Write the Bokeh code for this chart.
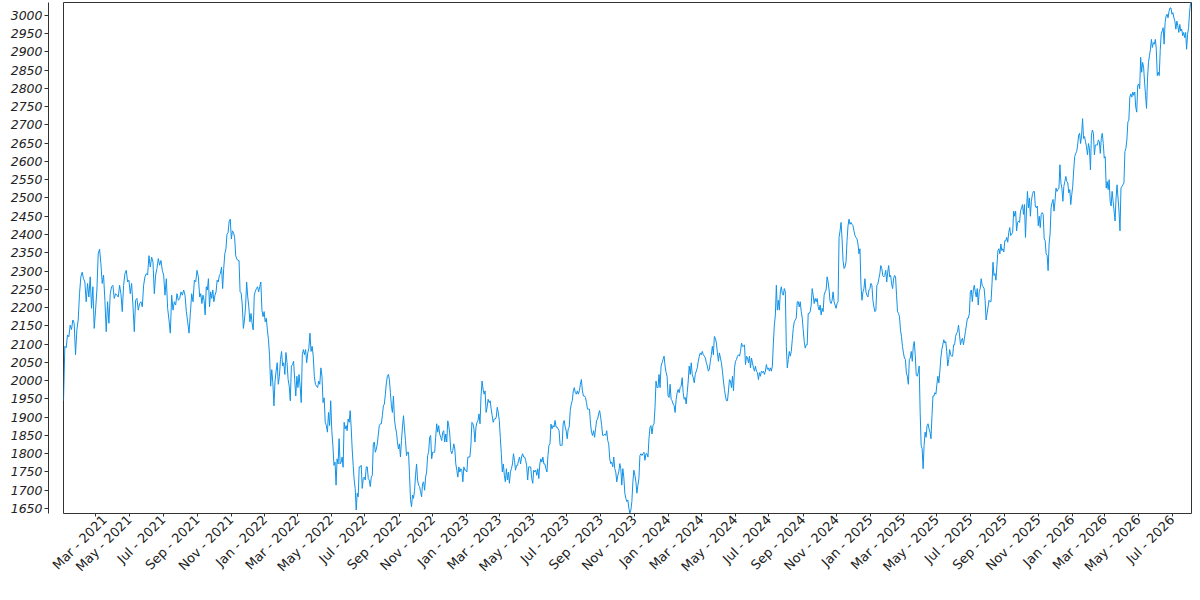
import math
import numpy as np
import pandas as pd
from bokeh.plotting import figure
from bokeh.layouts import row
from bokeh.models import (ColumnDataSource, Range1d, SingleIntervalTicker,
                          MonthsTicker, DatetimeTickFormatter)
from bokeh.embed import file_html
from bokeh.resources import INLINE

# ---- data ----
# boundaries between the stretches of the series
seg_edges = ["2021-01-01T12:00", "2021-09-05T00:00", "2022-05-08T00:00",
             "2023-01-07T00:00", "2023-09-08T00:00", "2024-05-09T00:00",
             "2025-01-09T00:00", "2025-09-10T00:00", "2026-05-05T00:00",
             "2026-08-05T00:00"]

vals_2021a = [1945, 2094, 2090, 2125, 2120, 2152, 2140, 2166, 2157, 2071,
              2139, 2166, 2238, 2284, 2297, 2279, 2270, 2216, 2266, 2229,
              2284, 2198, 2257, 2143, 2193, 2248, 2347, 2360, 2320, 2266,
              2289, 2220, 2134, 2216, 2157, 2238, 2257, 2261, 2225, 2238,
              2234, 2229, 2261, 2238, 2189, 2261, 2293, 2302, 2270, 2275,
              2238, 2266, 2207, 2134, 2220, 2225, 2193, 2211, 2216, 2202,
              2261, 2284, 2293, 2289, 2342, 2311, 2338, 2325, 2238, 2289,
              2307, 2334, 2316, 2329, 2302, 2289, 2234, 2279, 2198, 2166,
              2130, 2234, 2193, 2216, 2207, 2238, 2220, 2225, 2243, 2234,
              2248, 2234, 2189, 2161, 2130, 2184, 2238, 2216, 2275, 2270,
              2302, 2284]

vals_2021b = [2229, 2238, 2211, 2234, 2220, 2180, 2257, 2248, 2279, 2202,
              2243, 2225, 2248, 2216, 2234, 2243, 2275, 2270, 2288, 2293,
              2311, 2252, 2307, 2347, 2360, 2401, 2405, 2437, 2442, 2388,
              2410, 2405, 2392, 2342, 2333, 2329, 2329, 2243, 2240, 2207,
              2143, 2166, 2202, 2270, 2229, 2202, 2161, 2184, 2157, 2139,
              2234, 2245, 2252, 2257, 2243, 2257, 2270, 2193, 2175, 2189,
              2161, 2171, 2139, 2112, 2067, 1985, 2030, 1994, 1931, 1999,
              2026, 2049, 1990, 2012, 2058, 2080, 2040, 2049, 2017, 2077,
              2049, 2003, 1985, 1945, 2040, 2044, 2053, 2003, 1958, 2012,
              1981, 2017, 1985, 1940, 2071, 2085, 2071, 2085, 2049, 2076,
              2089, 2130, 2080, 2094, 2067, 2012, 1990, 1985, 1981, 1999,
              1990, 2035, 2012, 1940, 1953, 1886, 1877, 1859, 1913, 1877,
              1945, 1863, 1823, 1768]

vals_2022 = [1777, 1714, 1786, 1772, 1841, 1772, 1777, 1791, 1763, 1886,
             1868, 1877, 1863, 1895, 1886, 1918, 1873, 1813, 1768, 1728,
             1705, 1646, 1692, 1682, 1764, 1764, 1768, 1705, 1732, 1736,
             1728, 1764, 1764, 1732, 1728, 1710, 1736, 1741, 1827, 1832,
             1804, 1813, 1827, 1854, 1877, 1882, 1882, 1904, 1931, 1936,
             1963, 1994, 2012, 2017, 2003, 1967, 1931, 1913, 1958, 1895,
             1873, 1859, 1832, 1813, 1827, 1791, 1836, 1873, 1904, 1868,
             1836, 1795, 1804, 1804, 1741, 1674, 1655, 1687, 1678, 1700,
             1741, 1772, 1728, 1714, 1710, 1696, 1682, 1719, 1723, 1700,
             1736, 1750, 1795, 1804, 1845, 1850, 1786, 1804, 1804, 1804,
             1845, 1882, 1859, 1877, 1854, 1845, 1836, 1859, 1863, 1832,
             1854, 1832, 1890, 1877, 1854, 1809, 1800, 1809, 1827, 1813,
             1772, 1755, 1736, 1764, 1750, 1759, 1755, 1723, 1764, 1755,
             1755, 1750, 1791, 1791]

vals_2023a = [1791, 1823, 1886, 1882, 1868, 1832, 1873, 1886, 1891, 1909,
              1882, 1958, 1999, 1977, 1963, 1972, 1913, 1927, 1949, 1940,
              1945, 1922, 1904, 1886, 1895, 1895, 1900, 1927, 1913, 1891,
              1845, 1800, 1750, 1772, 1741, 1723, 1759, 1728, 1750, 1719,
              1750, 1759, 1772, 1800, 1782, 1755, 1768, 1768, 1782, 1791,
              1772, 1791, 1800, 1791, 1791, 1782, 1768, 1728, 1764, 1764,
              1764, 1732, 1719, 1755, 1750, 1755, 1741, 1759, 1732, 1772,
              1786, 1777, 1791, 1772, 1772, 1759, 1750, 1795, 1823, 1827,
              1881, 1868, 1877, 1873, 1891, 1873, 1873, 1868, 1863, 1823,
              1823, 1823, 1882, 1891, 1873, 1863, 1841, 1868, 1873, 1918,
              1936, 1945, 1972, 1981, 1967, 1963, 1972, 1963, 1972, 1990,
              2003, 1972, 1958, 1958, 1954, 1940, 1922, 1922, 1922, 1882,
              1859, 1850, 1863, 1845, 1868, 1891, 1895, 1909, 1918, 1900,
              1877, 1850, 1850]

vals_2023b = [1854, 1850, 1863, 1836, 1827, 1786, 1773, 1777, 1764, 1791,
              1759, 1750, 1723, 1741, 1750, 1773, 1759, 1714, 1759, 1736,
              1692, 1678, 1669, 1673, 1651, 1637, 1646, 1669, 1723, 1755,
              1741, 1723, 1692, 1714, 1732, 1795, 1800, 1795, 1800, 1804,
              1782, 1800, 1800, 1791, 1841, 1872, 1877, 1854, 1877, 1882,
              1926, 1999, 1981, 1981, 2017, 1981, 2040, 2049, 2058, 2067,
              2040, 2022, 2012, 1958, 1954, 1990, 1949, 1945, 1936, 1931,
              1913, 1949, 1967, 1976, 1967, 1981, 1985, 2008, 1967, 1949,
              1954, 1936, 1967, 1999, 2040, 2017, 2049, 2017, 2008, 1994,
              2017, 2026, 2035, 2053, 2067, 2076, 2071, 2080, 2071, 2067,
              2062, 2049, 2040, 2026, 2031, 2053, 2071, 2094, 2071, 2121,
              2116, 2103, 2076, 2053, 2076, 2062, 2049, 2026, 1999, 1976,
              1958, 1945, 1945, 1972, 2003, 1999, 1981, 2012, 1972, 2035,
              2053, 2058, 2067, 2071]

vals_2024 = [2067, 2080, 2103, 2094, 2094, 2098, 2044, 2067, 2062, 2049,
             2067, 2035, 2062, 2049, 2035, 2026, 2040, 2026, 2022, 2003,
             2022, 2012, 2026, 2022, 2026, 2017, 2026, 2044, 2031, 2035,
             2026, 2035, 2026, 2040, 2103, 2152, 2180, 2261, 2193, 2220,
             2193, 2243, 2257, 2238, 2234, 2252, 2243, 2094, 2035, 2058,
             2080, 2067, 2080, 2112, 2143, 2161, 2166, 2171, 2216, 2216,
             2202, 2216, 2189, 2171, 2139, 2107, 2089, 2098, 2098, 2184,
             2184, 2189, 2207, 2252, 2234, 2211, 2225, 2216, 2225, 2202,
             2193, 2207, 2180, 2198, 2189, 2234, 2243, 2248, 2284, 2270,
             2248, 2216, 2211, 2220, 2243, 2216, 2207, 2198, 2211, 2216,
             2392, 2410, 2433, 2388, 2329, 2307, 2311, 2325, 2383, 2424,
             2442, 2428, 2433, 2428, 2424, 2410, 2397, 2392, 2388, 2374,
             2347, 2361, 2261, 2220, 2243, 2252, 2279, 2243, 2234, 2229,
             2248, 2252, 2266, 2261, 2220, 2202]

vals_2025a = [2189, 2193, 2261, 2265, 2279, 2293, 2315, 2307, 2288, 2284,
              2288, 2302, 2270, 2297, 2315, 2284, 2288, 2265, 2252, 2279,
              2288, 2284, 2234, 2189, 2184, 2175, 2139, 2121, 2094, 2076,
              2062, 2058, 2021, 2012, 1990, 2058, 2062, 2080, 2053, 2094,
              2107, 2071, 2017, 2012, 2021, 2040, 1913, 1823, 1814, 1759,
              1823, 1859, 1845, 1877, 1882, 1868, 1859, 1841, 1904, 1958,
              1958, 1967, 1963, 1990, 2012, 1994, 2026, 2062, 2085, 2098,
              2112, 2103, 2107, 2080, 2040, 2058, 2085, 2071, 2067, 2067,
              2098, 2098, 2121, 2130, 2134, 2152, 2125, 2098, 2112, 2116,
              2098, 2116, 2134, 2152, 2171, 2171, 2184, 2243, 2248, 2216,
              2248, 2261, 2243, 2229, 2252, 2207, 2243, 2252, 2279, 2261,
              2257, 2252, 2220, 2166, 2184, 2202, 2220, 2216, 2216, 2265,
              2324, 2288, 2293, 2275, 2315, 2356, 2361, 2347, 2374, 2356,
              2361, 2352, 2383, 2383, 2392, 2379, 2405]

vals_2025b = [2419, 2397, 2401, 2406, 2464, 2450, 2464, 2410, 2433, 2437,
              2433, 2464, 2473, 2482, 2455, 2482, 2392, 2464, 2518, 2473,
              2500, 2450, 2491, 2509, 2518, 2518, 2478, 2473, 2478, 2424,
              2450, 2419, 2455, 2460, 2455, 2388, 2383, 2347, 2343, 2301,
              2374, 2401, 2473, 2487, 2496, 2464, 2491, 2527, 2518, 2523,
              2527, 2591, 2541, 2527, 2491, 2532, 2545, 2559, 2545, 2541,
              2514, 2523, 2482, 2509, 2532, 2577, 2613, 2622, 2627, 2645,
              2672, 2677, 2649, 2672, 2717, 2663, 2668, 2654, 2640, 2618,
              2649, 2636, 2577, 2672, 2686, 2677, 2618, 2645, 2645, 2645,
              2659, 2654, 2622, 2663, 2677, 2649, 2609, 2613, 2527, 2545,
              2523, 2550, 2491, 2478, 2518, 2491, 2464, 2437, 2500, 2536,
              2500, 2464, 2410, 2527, 2532, 2536, 2541, 2627, 2636, 2659,
              2708, 2713, 2776, 2785, 2776, 2790, 2781, 2790, 2749, 2735,
              2808, 2812, 2799]

vals_2026 = [2885, 2844, 2871, 2858, 2817, 2781, 2745, 2826, 2871, 2889,
             2907, 2934, 2912, 2925, 2921, 2934, 2907, 2835, 2844, 2835,
             2903, 2948, 2957, 2966, 2921, 2980, 2998, 3003, 2993, 3011,
             3020, 3020, 3003, 3007, 2993, 2984, 2962, 2984, 2971, 2953,
             2975, 2957, 2962, 2944, 2953, 2939, 2953, 2907, 2948, 2966,
             3007, 3033, 3040]

segments = [vals_2021a, vals_2021b, vals_2022, vals_2023a, vals_2023b,
            vals_2024, vals_2025a, vals_2025b, vals_2026]

# ---- assemble the series: each stretch's samples are evenly spaced in time ----
edges = [pd.Timestamp(s) for s in seg_edges]
dates, values = [], []
for k, vals in enumerate(segments):
    t0, t1 = edges[k], edges[k + 1]
    n = len(vals)
    if k == len(segments) - 1:
        fr = np.linspace(0.0, 1.0, n)
    else:
        fr = np.arange(n) / n
    dates.extend([t0 + (t1 - t0) * float(f) for f in fr])
    values.extend(vals)

source = ColumnDataSource(data=dict(x=pd.to_datetime(dates), y=values))

TOP, BOTTOM = 2, 71
yr = Range1d(1636.4, 3035)

# main plot (frame with full outline, x axis below)
p = figure(width=1143, height=584, x_axis_type="datetime",
           x_range=Range1d(edges[0], edges[-1]), y_range=yr,
           y_axis_location=None,
           toolbar_location=None, output_backend="svg",
           min_border_left=14, min_border_right=1,
           min_border_top=TOP, min_border_bottom=BOTTOM)

p.line(x="x", y="y", source=source, line_color="#1192e8", line_width=1)

p.grid.visible = False
p.outline_line_color = "#333333"
p.outline_line_width = 1
p.outline_line_alpha = 1.0
p.background_fill_color = "white"
p.border_fill_color = "white"

xa = p.xaxis[0]
xa.ticker = MonthsTicker(months=[0, 2, 4, 6, 8, 10])
fmt = "%b - %Y"
xa.formatter = DatetimeTickFormatter(months=fmt, days=fmt, years=fmt,
                                     hours=fmt, minutes=fmt)
xa.major_label_orientation = math.pi / 4
xa.axis_line_color = None
xa.major_tick_out = 3
xa.major_tick_in = 0
xa.minor_tick_out = 0
xa.minor_tick_in = 0
xa.major_tick_line_color = "#333333"
xa.major_label_standoff = 1
xa.major_label_text_font = "DejaVu Sans"
xa.major_label_text_font_size = "13px"
xa.major_label_text_color = "#222222"

# narrow companion figure that carries the offset y axis (shares the y range)
py = figure(width=49, height=584, x_range=Range1d(0, 1), y_range=yr,
            x_axis_location=None, y_axis_location="left",
            toolbar_location=None, output_backend="svg",
            min_border_left=48, min_border_right=0,
            min_border_top=TOP, min_border_bottom=BOTTOM)
py.grid.visible = False
py.outline_line_color = None
py.background_fill_color = "white"
py.border_fill_color = "white"

ya = py.yaxis[0]
ya.ticker = SingleIntervalTicker(interval=50, num_minor_ticks=0)
ya.axis_line_color = "#333333"
ya.axis_line_width = 1
ya.major_tick_out = 4
ya.major_tick_in = 0
ya.minor_tick_out = 0
ya.minor_tick_in = 0
ya.major_tick_line_color = "#333333"
ya.major_label_standoff = 2
ya.major_label_text_font = "DejaVu Sans"
ya.major_label_text_font_size = "12.5px"
ya.major_label_text_font_style = "italic"
ya.major_label_text_color = "#222222"

layout = row(py, p, spacing=0)

open("out.html", "w").write(file_html(layout, INLINE))
